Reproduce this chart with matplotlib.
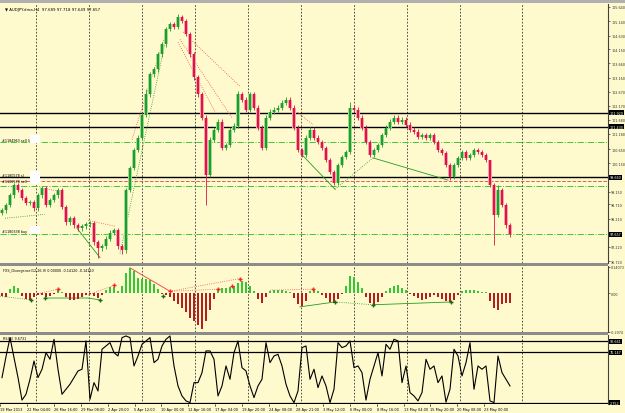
import matplotlib
matplotlib.use("Agg")
import matplotlib.pyplot as plt
from matplotlib.patches import Rectangle
import numpy as np

# AUDJPY.dma H4, one drawn candle per entry (closes), open = previous close
first_open = 98.40
closes = [98.50, 98.68, 99.03, 99.39, 99.21, 98.93, 98.75, 98.79, 98.57, 99.03,
          99.28, 98.68, 98.86, 99.03, 99.21, 98.61, 98.08, 98.22, 97.97, 97.87,
          97.94, 98.01, 98.05, 97.37, 97.16, 97.23, 97.51, 97.72, 97.80, 97.23,
          97.09, 99.21, 99.99, 100.62, 101.05, 101.86, 102.57, 103.27, 103.45, 103.98,
          104.33, 104.86, 105.04, 104.93, 105.29, 105.15, 104.69, 103.98, 103.17, 102.57,
          101.75, 99.74, 100.98, 101.33, 101.61, 100.69, 100.80, 101.33, 101.47, 102.57,
          102.39, 102.04, 102.57, 102.11, 101.40, 100.69, 101.75, 101.97, 102.04, 102.11,
          102.28, 102.39, 102.11, 101.40, 100.62, 100.45, 101.05, 101.33, 101.05, 100.90,
          100.69, 100.27, 99.85, 99.46, 100.09, 100.38, 100.55, 102.11, 102.04, 101.75,
          101.40, 100.90, 100.45, 100.62, 100.80, 101.15, 101.40, 101.61, 101.75, 101.61,
          101.68, 101.51, 101.33, 101.26, 101.08, 101.15, 101.05, 101.15, 100.90, 100.62,
          100.52, 100.09, 99.67, 100.09, 100.34, 100.55, 100.34, 100.45, 100.62, 100.55,
          100.45, 100.27, 99.39, 98.33, 99.21, 98.68, 97.97, 97.657]
spike_high = {36: 102.75, 44: 105.40, 59: 102.70, 87: 102.30, 122: 99.80, 124: 99.40}
spike_low = {24: 96.84, 30: 96.98, 51: 98.68, 112: 99.55, 123: 97.27}

# FXS_Divergence histogram
hist = [-0.015, -0.020, 0.020, 0.036, 0.025, -0.015, -0.030, -0.036, -0.020, -0.008,
        -0.012, -0.020, -0.015, -0.005, 0.020, 0.005, -0.020, -0.035, -0.037, -0.030,
        -0.020, -0.010, -0.004, -0.015, -0.025, -0.010, 0.015, 0.033, 0.035, 0.010,
        0.040, 0.110, 0.135, 0.120, 0.080, 0.075, 0.075, 0.070, 0.050, 0.020,
        -0.005, -0.010, -0.020, -0.040, -0.060, -0.080, -0.100, -0.130, -0.150, -0.170,
        -0.190, -0.150, -0.090, -0.030, 0.020, 0.030, 0.030, 0.035, 0.040, 0.055,
        0.065, 0.060, 0.040, 0.010, -0.030, -0.055, -0.020, 0.010, 0.015, 0.017,
        0.015, 0.010, 0.005, -0.025, -0.060, -0.070, -0.040, 0.010, 0.015, 0.010,
        -0.010, -0.025, -0.045, -0.050, -0.030, -0.005, 0.040, 0.090, 0.085, 0.060,
        0.030, -0.020, -0.050, -0.062, -0.045, -0.020, 0.010, 0.025, 0.040, 0.042,
        0.030, 0.015, -0.005, -0.015, -0.025, -0.035, -0.030, -0.020, -0.012, -0.020,
        -0.030, -0.040, -0.047, -0.035, -0.010, 0.012, 0.015, 0.017, 0.018, 0.012,
        0.008, 0.004, -0.040, -0.080, -0.088, -0.060, -0.050, -0.050]
div_peaks_x = [14, 28, 42, 54, 57.5, 59.5, 77.75]
div_peaks_y = [0.021, 0.042, 0.010, 0.021, 0.036, 0.078, 0.021]
div_troughs_x = [7.25, 10.75, 24.5, 40.25, 83.25, 92.75, 112.25]
div_troughs_y = [-0.036, -0.026, -0.036, -0.016, -0.047, -0.062, -0.047]

# oscillator in the bottom pane
osc = [39.6, 70.0, 97.6, 68.6, 39.6, 7.0, 15.4, 37.2, 63.7, 39.6,
       51.7, 75.8, 66.2, 95.2, 51.7, 15.4, 22.7, 30.0, 39.6, 49.2,
       51.7, 92.8, 8.2, 32.3, 20.2, 80.7, 85.5, 90.3, 75.8, 71.0,
       97.6, 100.0, 97.6, 56.5, 71.0, 87.9, 92.8, 97.6, 61.3, 66.2,
       85.5, 95.2, 100.0, 56.5, 27.5, 13.0, 5.8, 3.3, 32.3, 32.3,
       46.8, 78.3, 78.3, 66.2, 13.0, 27.5, 56.5, 37.2, 75.8, 92.8,
       54.0, 49.2, 27.5, 10.6, 27.5, 37.2, 90.3, 61.3, 71.0, 73.4,
       56.5, 30.0, 13.0, 3.3, 20.2, 83.1, 85.5, 37.2, 51.7, 25.0,
       42.0, 27.5, 3.3, 22.7, 90.3, 83.1, 85.5, 92.8, 54.0, 56.5,
       46.8, 7.0, 37.2, 56.5, 75.8, 42.0, 87.9, 80.7, 95.2, 92.8,
       32.3, 56.5, 17.8, 13.0, 5.8, 17.8, 66.2, 51.7, 56.5, 32.3,
       42.0, 4.0, 22.7, 80.7, 71.0, 42.0, 61.3, 90.3, 22.7, 56.5,
       51.7, 56.5, 5.8, 3.3, 71.0, 46.8, 37.2, 27.5]
osc_levels = [92.661, 76.147, 2.752]

# chart objects
black_levels = [101.920, 101.430, 99.660]
order_levels = [100.905, 99.350, 97.657]
sl_level = 99.530
bid = 97.657
price_ticks = [105.640, 105.140, 104.630, 104.150, 103.660, 103.160, 102.670, 102.170,
               101.680, 101.180, 100.650, 100.150, 99.150, 98.710, 98.210, 97.220, 96.720]
week_seps = [8.5, 21.75, 35, 48.25, 61.5, 74.75, 88, 101.25, 114.5, 130]
time_labels = ["19 Mar 2013", "22 Mar 04:00", "26 Mar 16:00", "29 Mar 08:00", "2 Apr 20:00",
               "5 Apr 12:00", "10 Apr 00:00", "12 Apr 16:00", "17 Apr 04:00", "19 Apr 20:00",
               "24 Apr 08:00", "28 Apr 21:00", "3 May 12:00", "6 May 00:00", "8 May 16:00",
               "13 May 04:00", "15 May 20:00", "20 May 08:00", "23 May 00:00"]

bg = "#fffacd"
bull = "#1f9e1f"
bear = "#e0143c"
bull_pale = "#9ed69e"
bear_pale = "#f2a3b3"
green_ln = "#3cc83c"
fs = 2.4

fig = plt.figure(figsize=(6.25, 4.14), dpi=100, facecolor=bg)
W, H = 625.0, 414.0


def pane(top, bottom):
    a = fig.add_axes([0, (H - bottom) / H, 608 / W, (bottom - top) / H], facecolor=bg)
    a.set_xlim(-0.5, 151.5)
    for s in ["top", "left", "bottom"]:
        a.spines[s].set_visible(False)
    a.spines["right"].set_color("#404040")
    a.spines["right"].set_linewidth(0.8)
    a.yaxis.tick_right()
    a.tick_params(axis="y", labelsize=fs, length=1.5, width=0.5, pad=0.8, colors="#303030")
    a.tick_params(axis="x", bottom=False, labelbottom=False)
    for s in week_seps:
        a.axvline(s, color="#333333", lw=0.6, ls=(0, (2, 2)), zorder=0)
    return a


def box_label(a, y, txt):
    a.text(1.003, y, txt, transform=a.get_yaxis_transform(), fontsize=fs, color="white",
           va="center", ha="left", clip_on=False,
           bbox=dict(boxstyle="square,pad=0.15", fc="black", ec="none"))


ax = pane(5, 264)
ax2 = pane(267, 333)
ax3 = pane(336, 405)

# ---- price pane
x = np.arange(len(closes))
c = np.array(closes)
o = np.array([first_open] + closes[:-1])
hi = np.maximum(o, c) + 0.08
lo = np.minimum(o, c) - 0.08
for k, v in spike_high.items():
    hi[k] = v
for k, v in spike_low.items():
    lo[k] = v
up = c >= o
cols = np.where(up, bull, bear)
pale = np.where(up, bull_pale, bear_pale)
body = np.maximum(np.abs(c - o), 0.03)
ax.bar(x, body, bottom=np.minimum(o, c), width=0.95, color=pale, lw=0, zorder=3)
ax.vlines(x, lo, hi, colors=cols, lw=0.6, zorder=4)
ax.bar(x, body, bottom=np.minimum(o, c), width=0.4, color=cols, lw=0, zorder=5)

ax.set_ylim(96.65, 105.745)
ax.set_yticks(price_ticks)
ax.set_yticklabels(["%.3f" % t for t in price_ticks])

for lv in black_levels:
    ax.axhline(lv, color="black", lw=1.0, zorder=2)
    box_label(ax, lv, "%.3f" % lv)
for lv in order_levels:
    ax.axhline(lv, color=green_ln, lw=0.7, ls="-.", zorder=2)
ax.axhline(sl_level, color="#e06050", lw=0.7, ls="--", zorder=2)
box_label(ax, bid, "%.3f" % bid)

# divergence trend lines on price
ax.plot([29.5, 41.5], [96.98, 104.86], color=bull, lw=0.6, ls=":")
ax.plot([32.5, 41.25], [100.98, 104.86], color="#f05050", lw=0.6, ls=":")
ax.plot([45.25, 59.5], [104.76, 102.85], color="#f05050", lw=0.6, ls=":")
ax.plot([44.5, 57.5], [104.50, 101.75], color="#f05050", lw=0.6, ls=":")
ax.plot([44.0, 53.25], [104.40, 101.96], color="#f05050", lw=0.6, ls=":")
ax.plot([72.0, 77.75], [102.14, 101.51], color="#f05050", lw=0.6, ls=":")
ax.plot([9.5, 14.5], [99.28, 99.17], color="#f05050", lw=0.6, ls=":")
ax.plot([21.5, 28.25], [98.15, 97.94], color="#f05050", lw=0.6, ls=":")
ax.plot([0.75, 10.75], [98.22, 98.36], color=bull, lw=0.6, ls=":")
ax.plot([18.75, 24.5], [97.87, 96.84], color=bull, lw=0.6)
ax.plot([75.0, 83.25], [100.45, 99.24], color=bull, lw=0.6)
ax.plot([83.25, 92.75], [99.24, 100.34], color=bull, lw=0.6, ls=":")
ax.plot([92.75, 111.5], [100.34, 99.56], color=bull, lw=0.6)

ax.text(0.008, 0.988, "\u25bc AUDJPY.dma,H4  97.689 97.718 97.649 97.657", transform=ax.transAxes,
        fontsize=2.8, va="top", ha="left", color="black")
for lv, txt in [(100.905, "#1184963 sell limit"), (99.660, "#1180578 sl"),
                (99.470, "#1180578 sell"), (97.720, "#1180338 buy")]:
    ax.text(0.0, lv, txt, fontsize=fs, va="bottom", ha="left", color="black")
    ax.add_patch(Rectangle((7.0, lv - 0.05), 2.6, 0.28, fc="white", ec="none", zorder=6))

# ---- divergence histogram pane
h = np.array(hist)
ax2.bar(x, h, width=0.6, color=np.where(h >= 0, "#33c833", "#b41e1e"), lw=0, zorder=3)
ax2.plot([9.5, 14], [0.0, 0.021], color="#f05050", lw=0.6, ls=":")
ax2.plot([21.5, 28], [-0.010, 0.042], color="#f05050", lw=0.6, ls=":")
ax2.plot([32, 42], [0.135, 0.010], color="#f05050", lw=0.7)
ax2.plot([42, 59.5], [0.010, 0.078], color="#f05050", lw=0.6, ls=":")
ax2.plot([42, 54], [0.010, 0.021], color="#f05050", lw=0.6, ls=":")
ax2.plot([67, 77.75], [0.016, 0.021], color="#f05050", lw=0.6, ls=":")
ax2.plot([-0.5, 7.25], [-0.016, -0.036], color=bull, lw=0.6, ls=":")
ax2.plot([10.75, 21.5, 24.5], [-0.026, -0.026, -0.036], color=bull, lw=0.6)
ax2.plot([74.5, 83.25], [-0.073, -0.047], color=bull, lw=0.6)
ax2.plot([83.25, 92.75], [-0.047, -0.062], color=bull, lw=0.6, ls=":")
ax2.plot([92.75, 112.25], [-0.062, -0.047], color=bull, lw=0.6)
ax2.plot(div_peaks_x, div_peaks_y, "+", color="#ff2020", ms=3, mew=1.0, zorder=5)
ax2.plot(div_troughs_x, div_troughs_y, "+", color="#107010", ms=3, mew=1.0, zorder=5)
ax2.set_ylim(-0.2074, 0.1450)
ax2.set_yticks([0.14073, 0.0, -0.2074])
ax2.set_yticklabels(["0.14073", "0.00", "-0.2074"])
ax2.text(0.005, 0.97, "FXS_Divergence(12,26,9) 0.00000 -0.14120 -0.14120", transform=ax2.transAxes,
         fontsize=fs, va="top", ha="left")

# ---- oscillator pane
ax3.plot(x, osc, color="black", lw=0.8, zorder=3)
for lv in osc_levels:
    ax3.axhline(lv, color="black", lw=0.9, zorder=2)
    box_label(ax3, lv, "%.3f" % lv)
ax3.set_ylim(1.3, 101.4)
ax3.set_yticks([])
ax3.text(0.005, 0.98, "RSI(6) 9.6731", transform=ax3.transAxes, fontsize=fs, va="top", ha="left")
ticks = np.arange(len(time_labels)) * 6.725 - 0.5
ax3.set_xticks(ticks)
ax3.set_xticklabels(time_labels, ha="left")
ax3.tick_params(axis="x", bottom=True, labelbottom=True, labelsize=2.5, length=1.5, width=0.5, pad=0.8)

# pane separators and top strip
for y0 in (264, 333):
    fig.patches.append(Rectangle((0, (H - y0 - 3) / H), 608 / W, 3 / H, transform=fig.transFigure,
                                 fc="#8c8c8c", ec="none"))
fig.patches.append(Rectangle((0, (H - 4) / H), 1, 4 / H, transform=fig.transFigure, fc="#b0b0b0", ec="none"))

fig.savefig("out.png", dpi=100, facecolor=bg)
